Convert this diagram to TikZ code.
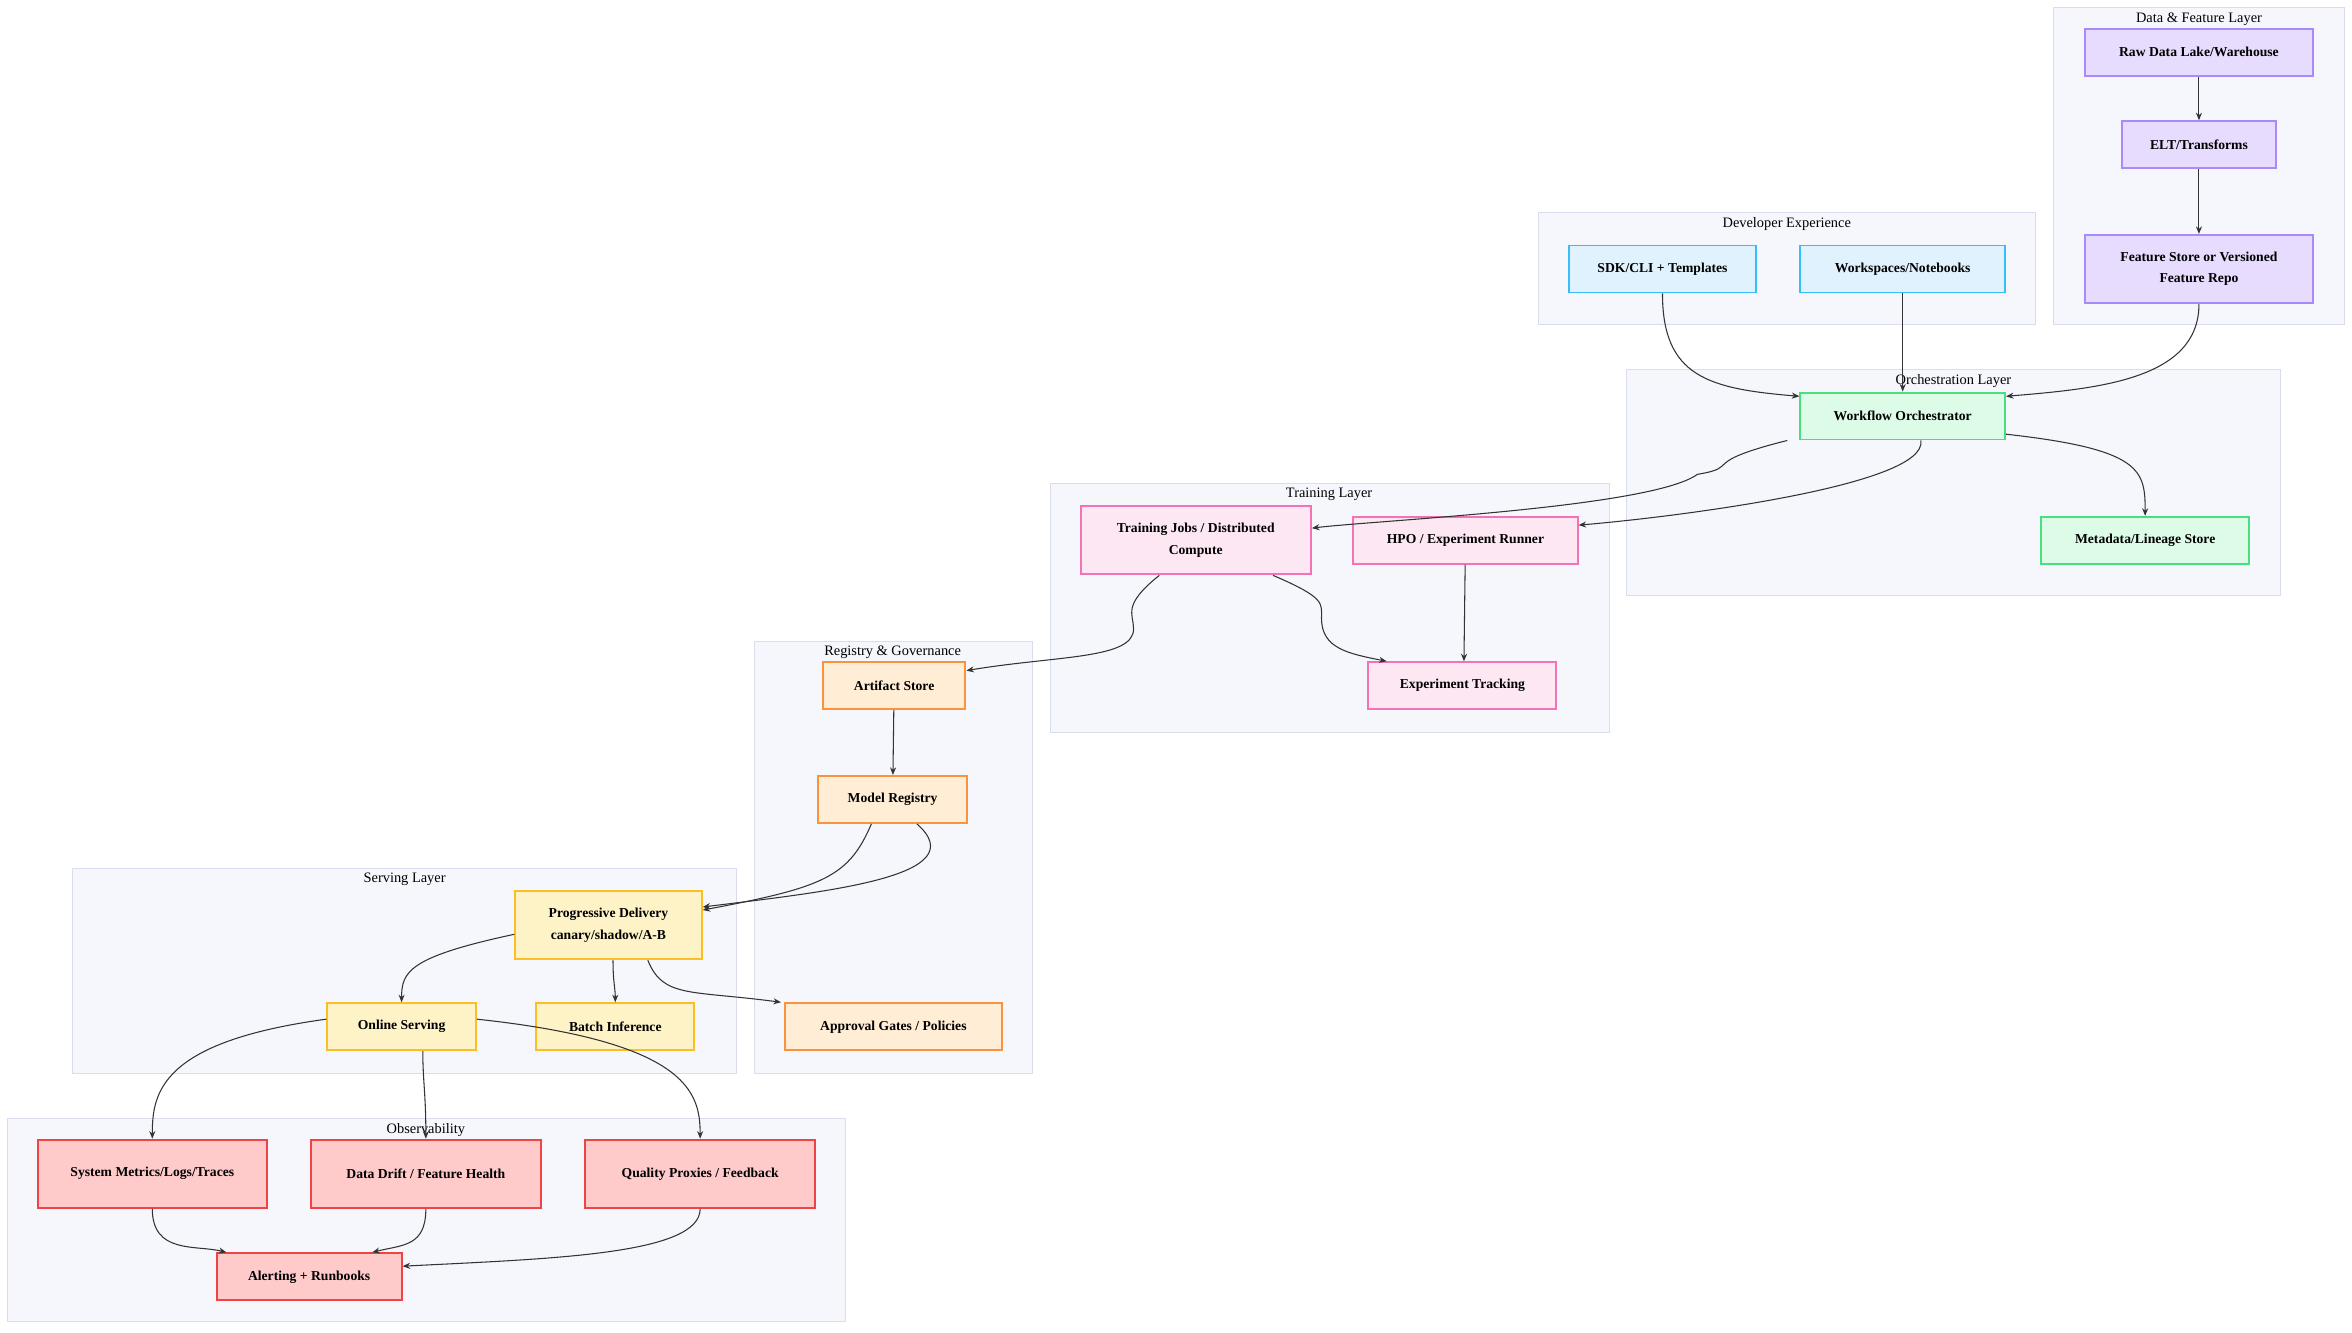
\documentclass[tikz,border=0pt]{standalone}
\usepackage{fontspec}
\setmainfont{Liberation Serif}
\usetikzlibrary{arrows.meta}
\definecolor{clfill}{HTML}{F6F7FC}
\definecolor{cldraw}{HTML}{DADDF0}
\definecolor{pfill}{HTML}{E7DBFE}\definecolor{pdraw}{HTML}{A78BFA}
\definecolor{bfill}{HTML}{E0F2FE}\definecolor{bdraw}{HTML}{38BDF8}
\definecolor{gfill}{HTML}{DCFCE7}\definecolor{gdraw}{HTML}{4ADE80}
\definecolor{kfill}{HTML}{FCE7F3}\definecolor{kdraw}{HTML}{F472B6}
\definecolor{ofill}{HTML}{FFEDD5}\definecolor{odraw}{HTML}{FB923C}
\definecolor{yfill}{HTML}{FEF3C7}\definecolor{ydraw}{HTML}{FBBF24}
\definecolor{rfill}{HTML}{FECACA}\definecolor{rdraw}{HTML}{EF4444}
\definecolor{edge}{HTML}{333333}

\begin{document}
\begin{tikzpicture}[x = 1pt, y = 1pt, yscale = -1,
	cluster/.style = {fill = clfill, draw = cldraw, line width = 0.6pt},
	cltitle/.style = {anchor = north, font = \fontsize{9.5}{11}\selectfont, inner sep = 0pt},
	box/.style 2 args = {draw = #2, fill = #1, line width = 1.3pt, align = center, inner sep = 0pt,
		font = \bfseries\fontsize{9}{14}\selectfont},
	flow/.style = {draw = edge, line width = 0.7pt, -{Stealth[length = 5pt, width = 4pt]}}]
	\useasboundingbox (0, 0) rectangle (1552, 879);

	% Cluster
	\draw [cluster] (1355, 5) rectangle (1547, 214);
	\node [cltitle] at (1451, 8) {Data \& Feature Layer};
	\draw [cluster] (1015, 140) rectangle (1343, 214);
	\node [cltitle] at (1179, 143) {Developer Experience};
	\draw [cluster] (1073, 244) rectangle (1505, 393);
	\node [cltitle] at (1289, 247) {Orchestration Layer};
	\draw [cluster] (693, 319) rectangle (1062, 483);
	\node [cltitle] at (877, 322) {Training Layer};
	\draw [cluster] (498, 423) rectangle (681, 708);
	\node [cltitle] at (589, 426) {Registry \& Governance};
	\draw [cluster] (48, 573) rectangle (486, 708);
	\node [cltitle] at (267, 576) {Serving Layer};
	\draw [cluster] (5, 738) rectangle (558, 872);
	\node [cltitle] at (281, 741) {Observability};

	% Knoten
	\begin{scope}[minimum height = 31pt]
		\node [box = {pfill}{pdraw}, minimum width = 150pt] (raw) at (1451, 34.5) {Raw Data Lake/Warehouse};
		\node [box = {pfill}{pdraw}, minimum width = 102pt] (elt) at (1451, 95.5) {ELT/Transforms};
		\node [box = {pfill}{pdraw}, minimum width = 150pt, minimum height = 45pt] (feat) at (1451, 177.5) {Feature Store or Versioned\\Feature Repo};
		\node [box = {bfill}{bdraw}, minimum width = 124pt] (sdk) at (1097, 177.5) {SDK/CLI + Templates};
		\node [box = {bfill}{bdraw}, minimum width = 135pt] (ws) at (1255.5, 177.5) {Workspaces/Notebooks};
		\node [box = {gfill}{gdraw}, minimum width = 135pt] (orch) at (1255.5, 274.5) {Workflow Orchestrator};
		\node [box = {gfill}{gdraw}, minimum width = 137pt] (meta) at (1415.5, 356.5) {Metadata/Lineage Store};
		\node [box = {kfill}{kdraw}, minimum width = 152pt, minimum height = 45pt] (train) at (789, 356.5) {Training Jobs / Distributed\\Compute};
		\node [box = {kfill}{kdraw}, minimum width = 148pt] (hpo) at (967, 356.5) {HPO / Experiment Runner};
		\node [box = {kfill}{kdraw}, minimum width = 124pt] (track) at (965, 452.5) {Experiment Tracking};
		\node [box = {ofill}{odraw}, minimum width = 94pt] (artifact) at (590, 452.5) {Artifact Store};
		\node [box = {ofill}{odraw}, minimum width = 98pt] (registry) at (589, 527.5) {Model Registry};
		\node [box = {ofill}{odraw}, minimum width = 143pt] (gates) at (589.5, 677.5) {Approval Gates / Policies};
		\node [box = {yfill}{ydraw}, minimum width = 123pt, minimum height = 45pt] (deliv) at (401.5, 610.5) {Progressive Delivery\\canary/shadow/A-B};
		\node [box = {yfill}{ydraw}, minimum width = 98pt] (online) at (265, 677.5) {Online Serving};
		\node [box = {yfill}{ydraw}, minimum width = 104pt] (batch) at (406, 677.5) {Batch Inference};
		\node [box = {rfill}{rdraw}, minimum width = 151pt, minimum height = 45pt] (sysm) at (100.5, 774.5) {System Metrics/Logs/Traces};
		\node [box = {rfill}{rdraw}, minimum width = 152pt, minimum height = 45pt] (drift) at (281, 774.5) {Data Drift / Feature Health};
		\node [box = {rfill}{rdraw}, minimum width = 152pt, minimum height = 45pt] (qual) at (462, 774.5) {Quality Proxies / Feedback};
		\node [box = {rfill}{rdraw}, minimum width = 122pt] (alert) at (204, 842.5) {Alerting + Runbooks};
	\end{scope}

	% Verbindungen
	\draw [flow] (raw) -- (elt);
	\draw [flow] (elt) -- (feat);
	\draw [flow] (sdk.south) .. controls +(0, 55) and +(-60, -5) .. ([yshift = -13pt]orch.west);
	\draw [flow] (ws) -- (orch);
	\draw [flow] (feat.south) .. controls +(0, 50) and +(60, -5) .. ([yshift = -13pt]orch.east);
	\draw [flow] ([xshift = -8pt]orch.south west) .. controls +(-60, 15) and +(30, -5) .. (1120, 313) .. controls +(-30, 22) and +(40, -5) .. ([yshift = -8pt]train.east);
	\draw [flow] ([xshift = 12pt]orch.south) .. controls +(5, 30) and +(60, -5) .. ([yshift = -10pt]hpo.east);
	\draw [flow] ([yshift = 12pt]orch.east) .. controls +(90, 10) and +(0, -30) .. (meta.north);
	\draw [flow] ([xshift = -24pt]train.south) .. controls +(-25, 20) and +(0, -10) .. (748, 415) .. controls +(0, 20) and +(60, -10) .. ([yshift = -10pt]artifact.east);
	\draw [flow] ([xshift = 51pt]train.south) .. controls +(35, 15) and +(0, -10) .. (872, 408) .. controls +(0, 20) and +(-25, -5) .. ([xshift = -50pt]track.north);
	\draw [flow] (hpo) -- ([xshift = 1pt]track.north);
	\draw [flow] (artifact) -- (registry);
	\draw [flow] ([xshift = -14pt]registry.south) .. controls +(-15, 35) and +(80, -15) .. ([yshift = -10pt]deliv.east);
	\draw [flow] ([xshift = 16pt]registry.south) .. controls +(40, 35) and +(80, -10) .. ([yshift = -12pt]deliv.east);
	\draw [flow] ([yshift = 6pt]deliv.west) .. controls +(-70, 15) and +(0, -20) .. (online.north);
	\draw [flow] ([xshift = 3pt]deliv.south) .. controls +(0, 15) and +(0, -10) .. (batch.north);
	\draw [flow] ([xshift = 26pt]deliv.south) .. controls +(10, 25) and +(-60, -8) .. ([xshift = -2pt]gates.north west);
	\draw [flow] ([yshift = -5pt]online.west) .. controls +(-110, 15) and +(0, -30) .. (sysm.north);
	\draw [flow] ([xshift = 14pt]online.south) .. controls +(0, 20) and +(0, -30) .. (drift.north);
	\draw [flow] ([yshift = -5pt]online.east) .. controls +(140, 15) and +(0, -30) .. (qual.north);
	\draw [flow] (sysm.south) .. controls +(0, 30) and +(-20, -5) .. ([xshift = 7pt]alert.north west);
	\draw [flow] (drift.south) .. controls +(0, 25) and +(20, -5) .. ([xshift = -20pt]alert.north east);
	\draw [flow] (qual.south) .. controls +(0, 30) and +(100, -5) .. ([yshift = -7pt]alert.east);
\end{tikzpicture}
\end{document}
